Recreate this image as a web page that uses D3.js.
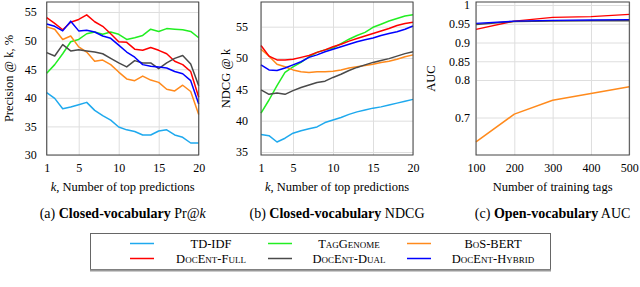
<!DOCTYPE html>
<html>
<head>
<meta charset="utf-8">
<script src="https://cdn.jsdelivr.net/npm/d3@7"></script>
<style>
  body { margin: 0; background: #fff; }
  svg text { font-family: "Liberation Serif", "DejaVu Serif", serif; fill: #000; }
  .grid line { stroke: #dedede; stroke-width: 1; }
  .grid path { display: none; }
  .series { fill: none; stroke-width: 1.5; stroke-linejoin: round; }
</style>
</head>
<body>
<div id="chart"></div>
<script>
var width = 640, height = 287;

// k = 1..20
var K = d3.range(1, 21);

// (a) Precision @ k, %
var prTdidf  = [40.9, 39.9, 38.1, 38.4, 38.8, 39.2, 37.8, 36.9, 36.1, 34.9, 34.4, 34.1, 33.5, 33.5, 34.2, 34.4, 33.5, 33.1, 32.1, 32.1];
var prGenome = [44.3, 45.8, 47.7, 49.8, 50.2, 51.2, 51.5, 51.1, 51.5, 51.1, 50.2, 50.5, 50.9, 52.0, 51.6, 52.1, 52.0, 51.9, 51.6, 50.5];
var prBert   = [52.4, 52.0, 50.2, 50.8, 48.9, 48.0, 46.4, 46.6, 45.8, 44.5, 43.3, 43.0, 43.8, 43.1, 42.7, 41.5, 41.2, 42.2, 41.1, 37.1];
var prFull   = [54.0, 53.0, 51.9, 53.2, 53.7, 54.5, 53.3, 52.5, 51.2, 49.8, 49.7, 48.5, 48.3, 48.8, 48.3, 47.7, 46.4, 45.8, 44.6, 40.1];
var prDual   = [47.9, 47.3, 49.3, 48.2, 48.4, 48.2, 48.0, 47.7, 46.9, 46.1, 45.4, 46.5, 46.1, 46.1, 45.1, 46.1, 46.9, 47.4, 45.9, 42.1];
var prHybrid = [52.9, 52.5, 51.7, 53.4, 51.7, 51.8, 51.5, 50.8, 50.4, 49.2, 48.0, 47.1, 45.8, 45.5, 45.4, 45.2, 44.6, 44.2, 43.0, 38.9];

// (b) NDCG @ k
var ndTdidf  = [37.8, 37.6, 36.6, 37.2, 38.0, 38.4, 38.7, 39.0, 39.7, 40.1, 40.5, 41.0, 41.4, 41.7, 42.0, 42.2, 42.5, 42.8, 43.1, 43.4];
var ndGenome = [41.2, 43.3, 45.6, 47.7, 48.6, 49.3, 50.2, 50.9, 51.3, 51.6, 52.3, 53.0, 53.6, 54.1, 54.9, 55.4, 55.9, 56.3, 56.7, 56.9];
var ndBert   = [51.4, 50.3, 49.0, 48.6, 48.1, 47.8, 47.7, 47.8, 47.8, 47.9, 48.1, 48.4, 48.6, 48.8, 49.0, 49.3, 49.5, 49.8, 50.2, 50.5];
var ndFull   = [52.0, 50.3, 49.7, 49.7, 49.8, 50.1, 50.4, 50.9, 51.3, 51.8, 52.2, 52.7, 53.1, 53.5, 53.9, 54.3, 54.7, 55.2, 55.5, 55.7];
var ndDual   = [44.9, 44.2, 44.4, 44.2, 44.8, 45.3, 45.7, 46.1, 46.3, 46.9, 47.4, 48.0, 48.5, 48.9, 49.3, 49.6, 49.9, 50.3, 50.7, 51.0];
var ndHybrid = [48.9, 48.1, 48.0, 48.4, 48.9, 49.4, 50.1, 50.5, 51.0, 51.4, 51.8, 52.2, 52.6, 52.9, 53.2, 53.6, 53.9, 54.2, 54.6, 55.1];

// (c) AUC vs number of training tags
var tags      = [100, 200, 300, 400, 500];
var aucFull   = [0.935, 0.957, 0.967, 0.969, 0.975];
var aucDual   = [0.948, 0.956, 0.957, 0.958, 0.958];
var aucHybrid = [0.951, 0.957, 0.959, 0.960, 0.961];
var aucBert   = [0.635, 0.709, 0.746, 0.764, 0.782];

var names  = ["TD-IDF", "TagGenome", "BoS-BERT", "DocEnt-Full", "DocEnt-Dual", "DocEnt-Hybrid"];
var colors = ["#1ea9ee", "#22ee22", "#ff8a1c", "#ff0000", "#4a4a4a", "#0000ff"];

var kTicks   = [1, 5, 10, 15, 20];
var prTicks  = [30, 35, 40, 45, 50, 55];
var ndTicks  = [35, 40, 45, 50, 55];
var tagTicks = [100, 200, 300, 400, 500];
var aucTicks = [0.7, 0.8, 0.85, 0.9, 0.95, 1];

var svg = d3.select("#chart").append("svg")
    .attr("width", width)
    .attr("height", height);

var plotTop = 2, plotBottom = 155;

function panel(p) {
  var x = d3.scaleLinear().domain(p.xDomain).range(p.xRange);
  var y = d3.scaleLinear().domain(p.yDomain).range([plotBottom, plotTop]);
  var w = p.xRange[1] - p.xRange[0];
  var g = svg.append("g");

  // grid + tick labels
  g.append("g")
      .attr("class", "grid")
      .attr("transform", "translate(0," + plotBottom + ")")
      .call(d3.axisBottom(x).tickValues(p.xTicks).tickSize(-(plotBottom - plotTop)).tickPadding(8.5))
      .call(function(s) { s.attr("font-family", null); s.selectAll("text").attr("font-size", 12); });
  g.append("g")
      .attr("class", "grid")
      .attr("transform", "translate(" + p.xRange[0] + ",0)")
      .call(d3.axisLeft(y).tickValues(p.yTicks).tickSize(-w).tickPadding(p.yPad).tickFormat(d3.format("")))
      .call(function(s) { s.attr("font-family", null); s.selectAll("text").attr("font-size", 12); });

  var line = d3.line()
      .x(function(d) { return x(d[0]); })
      .y(function(d) { return y(d[1]); });

  p.series.forEach(function(s) {
    g.append("path")
        .attr("class", "series")
        .attr("stroke", colors[s.c])
        .attr("d", line(d3.zip(p.xs, s.v)));
  });

  // frame
  g.append("rect")
      .attr("x", p.xRange[0]).attr("y", plotTop)
      .attr("width", w).attr("height", plotBottom - plotTop)
      .attr("fill", "none").attr("stroke", "#444").attr("stroke-width", 1);

  var cx = (p.xRange[0] + p.xRange[1]) / 2;
  g.append("text")
      .attr("transform", "translate(" + p.yTitleX + "," + ((plotTop + plotBottom) / 2) + ") rotate(-90)")
      .attr("text-anchor", "middle").attr("dy", "0.35em")
      .attr("font-size", 12.5)
      .text(p.yTitle);

  var xt = g.append("text")
      .attr("x", cx).attr("y", 191)
      .attr("text-anchor", "middle")
      .attr("font-size", 12.5);
  if (p.italicK) {
    xt.append("tspan").attr("font-style", "italic").text("k");
    xt.append("tspan").text(", " + p.xTitle);
  } else {
    xt.text(p.xTitle);
  }

  var cap = g.append("text")
      .attr("x", cx).attr("y", 218)
      .attr("text-anchor", "middle")
      .attr("font-size", 14);
  cap.append("tspan").text(p.cap[0] + " ");
  cap.append("tspan").attr("font-weight", "bold").text(p.cap[1]);
  cap.append("tspan").text(" " + p.cap[2]);
  if (p.cap[3]) cap.append("tspan").attr("font-style", "italic").text(p.cap[3]);
}

panel({
  xDomain: [1, 20], xRange: [46.7, 198.7], xTicks: kTicks, xs: K,
  yDomain: [30, 56.75], yTicks: prTicks, yPad: 10,
  yTitle: "Precision @ k, %", yTitleX: 9,
  xTitle: "Number of top predictions", italicK: true,
  cap: ["(a)", "Closed-vocabulary", "Pr@", "k"],
  series: [
    { c: 0, v: prTdidf }, { c: 1, v: prGenome }, { c: 2, v: prBert },
    { c: 3, v: prFull }, { c: 4, v: prDual }, { c: 5, v: prHybrid }
  ]
});

panel({
  xDomain: [1, 20], xRange: [261, 413], xTicks: kTicks, xs: K,
  yDomain: [34.52, 58.94], yTicks: ndTicks, yPad: 13,
  yTitle: "NDCG @ k", yTitleX: 226,
  xTitle: "Number of top predictions", italicK: true,
  cap: ["(b)", "Closed-vocabulary", "NDCG"],
  series: [
    { c: 0, v: ndTdidf }, { c: 1, v: ndGenome }, { c: 2, v: ndBert },
    { c: 3, v: ndFull }, { c: 4, v: ndDual }, { c: 5, v: ndHybrid }
  ]
});

panel({
  xDomain: [100, 500], xRange: [476, 629.3], xTicks: tagTicks, xs: tags,
  yDomain: [0.6, 1.008], yTicks: aucTicks, yPad: 6,
  yTitle: "AUC", yTitleX: 430.5,
  xTitle: "Number of training tags", italicK: false,
  cap: ["(c)", "Open-vocabulary", "AUC"],
  series: [
    { c: 2, v: aucBert }, { c: 3, v: aucFull }, { c: 4, v: aucDual }, { c: 5, v: aucHybrid }
  ]
});

// legend
var lg = svg.append("g");
lg.append("rect")
    .attr("x", 90.5).attr("y", 233.5).attr("width", 460).attr("height", 36)
    .attr("fill", "#fff").attr("stroke", "#666").attr("stroke-width", 1);
lg.append("line")
    .attr("x1", 90).attr("x2", 551).attr("y1", 270.5).attr("y2", 270.5)
    .attr("stroke", "#999").attr("stroke-width", 2);

var sampleX = [130, 268, 407],
    labelX  = [211, 349, 493],
    rowY    = [243.5, 258.5];

var item = lg.selectAll(".item")
  .data(names)
  .enter().append("g")
    .attr("class", "item");

item.append("line")
    .attr("x1", function(d, i) { return sampleX[i % 3]; })
    .attr("x2", function(d, i) { return sampleX[i % 3] + 24; })
    .attr("y1", function(d, i) { return rowY[Math.floor(i / 3)]; })
    .attr("y2", function(d, i) { return rowY[Math.floor(i / 3)]; })
    .attr("stroke", function(d, i) { return colors[i]; })
    .attr("stroke-width", 1.5);

item.append("text")
    .attr("x", function(d, i) { return labelX[i % 3]; })
    .attr("y", function(d, i) { return rowY[Math.floor(i / 3)]; })
    .attr("dy", "0.35em")
    .attr("text-anchor", "middle")
    .attr("font-size", 12.5)
    .style("font-variant", "small-caps")
    .text(function(d) { return d; });
</script>
</body>
</html>
